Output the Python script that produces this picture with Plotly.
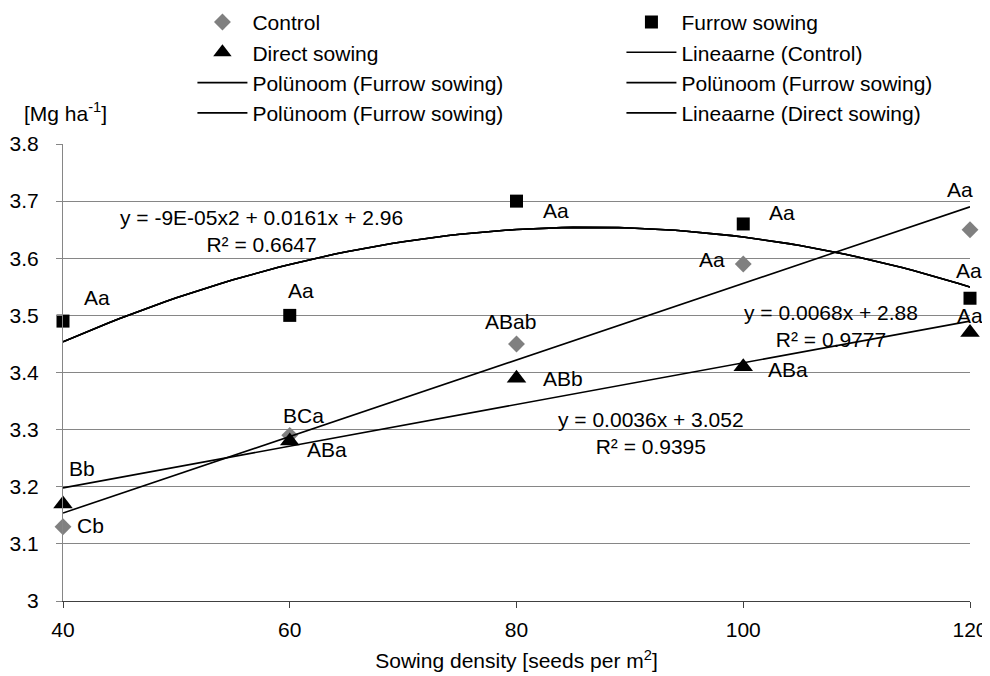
import numpy as np
import plotly.graph_objects as go

# ---------------- data ----------------
density = [40, 60, 80, 100, 120]
control = [3.13, 3.29, 3.45, 3.59, 3.65]
furrow = [3.49, 3.50, 3.70, 3.66, 3.53]
direct = [3.17, 3.28, 3.39, 3.41, 3.47]

control_labels = ["Cb", "BCa", "ABab", "Aa", "Aa"]
furrow_labels = ["Aa", "Aa", "Aa", "Aa", "Aa"]
direct_labels = ["Bb", "ABa", "ABb", "ABa", "Aa"]

eq_poly_furrow = "y = -9E-05x2 + 0.0161x + 2.96<br>R² = 0.6647"
eq_lin_control = "y = 0.0068x + 2.88<br>R² = 0.9777"
eq_lin_direct = "y = 0.0036x + 3.052<br>R² = 0.9395"

x_ticks = [40, 60, 80, 100, 120]
y_ticks = [3, 3.1, 3.2, 3.3, 3.4, 3.5, 3.6, 3.7, 3.8]

# ---------------- styles / positions ----------------
FONT = "Liberation Sans, Arial, sans-serif"
FS = 21
control_shifts = [(27, 1), (14, 20), (-6, 22), (-31, 4), (-10, 40)]
furrow_shifts = [(34, 24), (11, 25), (39, -9), (39, 11), (-1, 28)]
direct_shifts = [(19, 35), (37, -8), (46, 0), (45, -3), (0, 17)]

# ---------------- trend lines (fitted from data) ----------------
xd = np.array(density, dtype=float)
xx = np.linspace(min(density), max(density), 81)
c_lin = np.polyfit(xd, control, 1)
f_poly = np.polyfit(xd, furrow, 2)
d_lin = np.polyfit(xd, direct, 1)

fig = go.Figure()

fig.add_trace(go.Scatter(x=density, y=control, mode="markers", name="Control",
                         marker=dict(symbol="diamond", size=13, color="#808080"),
                         cliponaxis=False, legend="legend"))
fig.add_trace(go.Scatter(x=density, y=furrow, mode="markers", name="Furrow sowing",
                         marker=dict(symbol="square", size=13, color="black"),
                         cliponaxis=False, legend="legend2"))
fig.add_trace(go.Scatter(x=density, y=direct, mode="markers", name="Direct sowing",
                         marker=dict(symbol="triangle-up", size=17, color="black"),
                         cliponaxis=False, legend="legend"))
line_style = dict(color="black", width=1.6)
fig.add_trace(go.Scatter(x=xx, y=np.polyval(c_lin, xx), mode="lines", name="Lineaarne (Control)",
                         line=line_style, legend="legend2"))
fig.add_trace(go.Scatter(x=xx, y=np.polyval(f_poly, xx), mode="lines", name="Polünoom (Furrow sowing)",
                         line=line_style, legend="legend"))
fig.add_trace(go.Scatter(x=xx, y=np.polyval(f_poly, xx), mode="lines", name="Polünoom (Furrow sowing)",
                         line=line_style, legend="legend2"))
fig.add_trace(go.Scatter(x=xx, y=np.polyval(f_poly, xx), mode="lines", name="Polünoom (Furrow sowing)",
                         line=line_style, legend="legend"))
fig.add_trace(go.Scatter(x=xx, y=np.polyval(d_lin, xx), mode="lines", name="Lineaarne (Direct sowing)",
                         line=line_style, legend="legend2"))

annotations = []
for ys, labs, shifts in [(control, control_labels, control_shifts),
                         (furrow, furrow_labels, furrow_shifts),
                         (direct, direct_labels, direct_shifts)]:
    for xv, yv, lab, (dx, dy) in zip(density, ys, labs, shifts):
        annotations.append(dict(x=xv, y=yv, xref="x", yref="y", text=lab, showarrow=False,
                                xshift=dx, yshift=dy, font=dict(family=FONT, size=FS, color="black")))

for txt, ax, ay in [(eq_poly_furrow, 57.5, 3.647), (eq_lin_control, 107.7, 3.482), (eq_lin_direct, 91.9, 3.294)]:
    annotations.append(dict(x=ax, y=ay, xref="x", yref="y", text=txt, showarrow=False, align="center",
                            font=dict(family=FONT, size=FS, color="black")))

annotations.append(dict(x=-0.045, y=1.070, xref="paper", yref="paper", xanchor="left", yanchor="middle",
                        text="[Mg ha<sup>-1</sup>]", showarrow=False,
                        font=dict(family=FONT, size=FS, color="black")))

legend_common = dict(orientation="v", yanchor="top", xanchor="left", bgcolor="rgba(0,0,0,0)",
                     font=dict(family=FONT, size=FS, color="black"), tracegroupgap=0, itemwidth=50)

fig.update_layout(
    width=990, height=676,
    margin=dict(l=55, r=28, t=136, b=83, autoexpand=False),
    paper_bgcolor="white", plot_bgcolor="white",
    font=dict(family=FONT, size=FS, color="black"),
    legend=dict(x=0.1427, y=1.311, **legend_common),
    legend2=dict(x=0.6157, y=1.311, **legend_common),
    annotations=annotations,
    xaxis=dict(range=[40, 120], tickvals=x_ticks, showgrid=False, showline=True, linecolor="#404040",
               ticks="outside", ticklen=6, tickcolor="#404040", zeroline=False, ticklabelstandoff=4,
               title=dict(text="Sowing density [seeds per m<sup>2</sup>]", standoff=13,
                          font=dict(family=FONT, size=FS))),
    yaxis=dict(range=[3, 3.8], tickvals=y_ticks, showgrid=True, gridcolor="#868686", gridwidth=1,
               showline=True, linecolor="#868686", ticks="outside", ticklen=6, tickcolor="#868686",
               zeroline=False, ticklabelstandoff=13),
)

fig.write_html("out.html")
